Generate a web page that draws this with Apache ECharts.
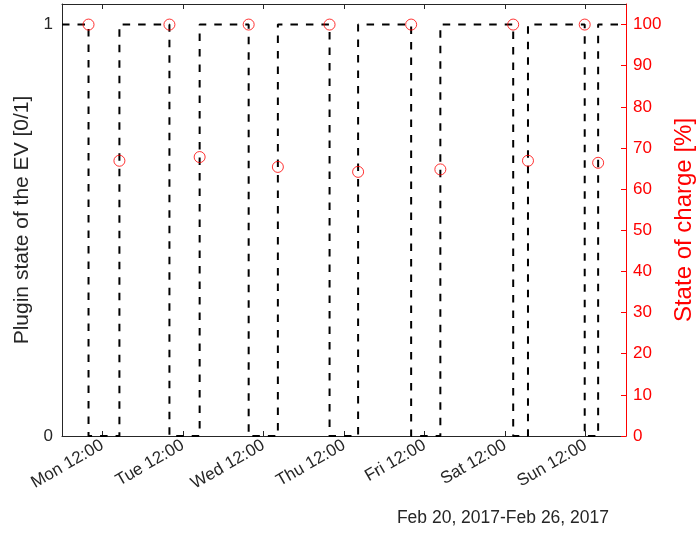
<!DOCTYPE html>
<html>
<head>
<meta charset="utf-8">
<script src="https://cdn.jsdelivr.net/npm/echarts@6/dist/echarts.min.js"></script>
<style>
html,body{margin:0;padding:0;background:#fff;}
#chart{width:700px;height:538px;}
</style>
</head>
<body>
<div id="chart"></div>
<script>
// Hours since Mon Feb 20, 2017 00:00
const tickHours = [12, 36, 60, 84, 108, 132, 156];
const tickLabels = ['Mon 12:00', 'Tue 12:00', 'Wed 12:00', 'Thu 12:00', 'Fri 12:00', 'Sat 12:00', 'Sun 12:00'];
const departHours = [7.9, 32.0, 55.6, 79.7, 104.0, 134.4, 155.7];
const arriveHours = [17.1, 41.0, 64.3, 88.2, 112.7, 138.8, 159.7];
const departSoc = [100, 100, 100, 100, 100, 100, 100];
const arriveSoc = [66.9, 67.8, 65.4, 64.2, 64.8, 66.9, 66.4];
const xRange = [0, 168];
const dateRangeLabel = 'Feb 20, 2017-Feb 26, 2017';

const plug = [[xRange[0], 1]];
for (let i = 0; i < departHours.length; i++) {
  plug.push([departHours[i], 1], [departHours[i], 0], [arriveHours[i], 0], [arriveHours[i], 1]);
}
plug.push([xRange[1], 1]);

const socPts = [];
for (let i = 0; i < departHours.length; i++) {
  socPts.push([departHours[i], departSoc[i]]);
  socPts.push([arriveHours[i], arriveSoc[i]]);
}

const FONT = 'Liberation Sans, Arial, Helvetica, sans-serif';
const DARK = '#262626';
const RED = '#ff0000';
const labelFmt = v => { const i = tickHours.indexOf(v); return i >= 0 ? tickLabels[i] : ''; };

const chart = echarts.init(document.getElementById('chart'), null, {renderer: 'canvas'});
chart.setOption({
  animation: false,
  backgroundColor: '#fff',
  grid: {left: 62, right: 74, top: 4, bottom: 102, containLabel: false, outerBoundsMode: 'none'},
  xAxis: [{
    type: 'value', min: xRange[0], max: xRange[1], position: 'bottom',
    axisLine: {show: true, onZero: false, lineStyle: {color: DARK, width: 1}},
    axisTick: {show: true, inside: true, length: 5, customValues: tickHours, lineStyle: {color: DARK}},
    axisLabel: {show: true, customValues: tickHours, formatter: labelFmt, rotate: 30, margin: 8,
      fontSize: 17, color: DARK, fontFamily: FONT},
    splitLine: {show: false}
  }, {
    type: 'value', min: xRange[0], max: xRange[1], position: 'top',
    axisLine: {show: true, onZero: false, lineStyle: {color: DARK, width: 1}},
    axisTick: {show: true, inside: true, length: 5, customValues: tickHours, lineStyle: {color: DARK}},
    axisLabel: {show: false},
    splitLine: {show: false}
  }],
  yAxis: [{
    type: 'value', min: 0, max: 1.05, interval: 1, position: 'left',
    name: 'Plugin state of the EV [0/1]', nameLocation: 'middle', nameGap: 25, nameRotate: 90,
    nameTextStyle: {fontSize: 21, color: DARK, fontFamily: FONT},
    axisLine: {show: true, onZero: false, lineStyle: {color: DARK, width: 1}},
    axisTick: {show: true, inside: true, length: 5, lineStyle: {color: DARK}},
    axisLabel: {fontSize: 17, color: DARK, fontFamily: FONT, showMaxLabel: false, margin: 9},
    splitLine: {show: false}
  }, {
    type: 'value', min: 0, max: 105, interval: 10, position: 'right',
    name: 'State of charge [%]', nameLocation: 'middle', nameGap: 46, nameRotate: 90,
    nameTextStyle: {fontSize: 24, color: RED, fontFamily: FONT},
    axisLine: {show: true, onZero: false, lineStyle: {color: RED, width: 1}},
    axisTick: {show: true, inside: true, length: 5, lineStyle: {color: RED}},
    axisLabel: {fontSize: 17, color: RED, fontFamily: FONT, showMaxLabel: false, margin: 7},
    splitLine: {show: false}
  }],
  graphic: [{
    type: 'text', right: 700 - 609, top: 509,
    style: {text: dateRangeLabel, fontSize: 17.5, fill: DARK, fontFamily: FONT}
  }],
  series: [{
    type: 'line', xAxisIndex: 0, yAxisIndex: 0, data: plug, symbol: 'none',
    lineStyle: {color: '#000', width: 2, type: [7.5, 8]}, z: 2
  }, {
    type: 'scatter', xAxisIndex: 0, yAxisIndex: 1, data: socPts, symbol: 'circle', symbolSize: 11,
    itemStyle: {color: 'rgba(0,0,0,0)', borderColor: RED, borderWidth: 1}, z: 3
  }]
});
</script>
</body>
</html>
